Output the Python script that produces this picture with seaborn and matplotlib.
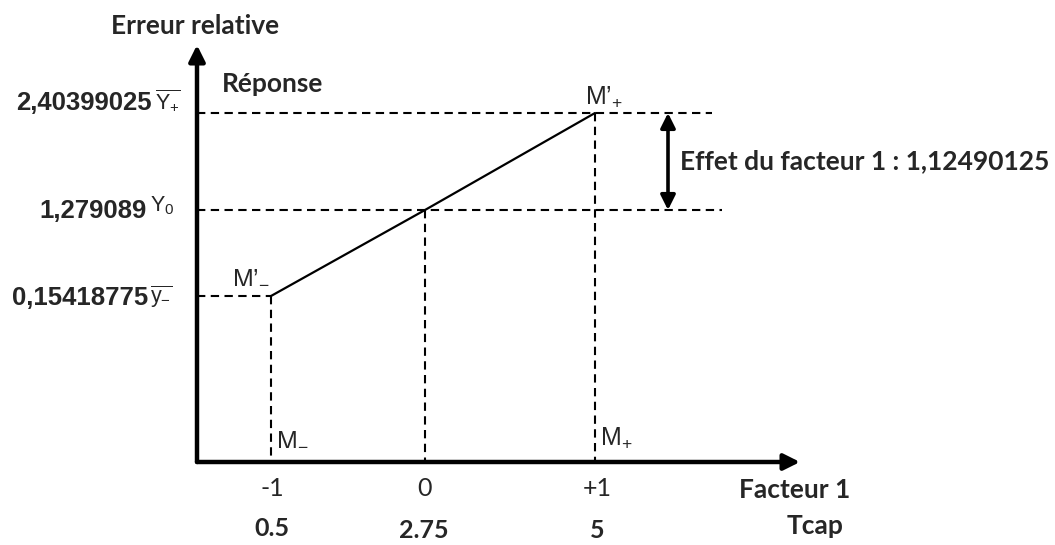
import matplotlib
matplotlib.use("Agg")
import matplotlib.pyplot as plt
import seaborn as sns
import pandas as pd
import numpy as np

# Two-level design for factor 1 (Tcap) and the measured relative error
coded_labels = ["-1", "0", "+1"]
tcap_levels = [0.5, 2.75, 5]
responses = [0.15418775, 1.279089, 2.40399025]
response_symbols = [r"$\overline{\mathrm{y}_{-}}$", r"$\mathrm{Y}_{0}$", r"$\overline{\mathrm{Y}_{+}}$"]
point_labels = ["M’$_{-}$", None, "M’$_{+}$"]
base_labels = ["M$_{-}$", None, "M$_{+}$"]
effect = 1.12490125

sns.set_theme(style="white")
plt.rcParams["mathtext.fontset"] = "custom"
plt.rcParams["mathtext.rm"] = "Liberation Sans"
plt.rcParams["mathtext.it"] = "Liberation Sans:italic"
plt.rcParams["mathtext.bf"] = "Liberation Sans:bold"
plt.rcParams["font.family"] = ["Lato", "DejaVu Sans"]

W, H = 1055, 545
fig = plt.figure(figsize=(W / 100, H / 100), dpi=100)

# frame of the arrowed axes, in pixels from the top-left corner
ax_l, ax_r, ax_t, ax_b = 197, 800, 45, 462
# schematic (not to scale) placement of the three levels, in pixels
x_knots_px = [271, 425, 595]
y_knots_px = [296, 210, 113]


def piecewise(src, dst):
    src = np.asarray(src, float)
    dst = np.asarray(dst, float)
    lo = (dst[1] - dst[0]) / (src[1] - src[0])
    hi = (dst[-1] - dst[-2]) / (src[-1] - src[-2])

    def f(v):
        v = np.asarray(v, float)
        out = np.interp(v, src, dst)
        out = np.where(v < src[0], dst[0] + (v - src[0]) * lo, out)
        out = np.where(v > src[-1], dst[-1] + (v - src[-1]) * hi, out)
        return out
    return f


x_fwd = piecewise(tcap_levels, x_knots_px)
x_inv = piecewise(x_knots_px, tcap_levels)
y_fwd = piecewise(responses, [-p for p in y_knots_px])
y_inv = piecewise([-p for p in y_knots_px], responses)

ax = fig.add_axes([ax_l / W, 1 - ax_b / H, (ax_r - ax_l) / W, (ax_b - ax_t) / H])
ax.set_xscale("function", functions=(x_fwd, x_inv))
ax.set_yscale("function", functions=(y_fwd, y_inv))


def px_x(px):
    return float(x_inv(px))


def px_y(py):
    return float(y_inv(-py))


# response line through the three design points
df = pd.DataFrame({"Tcap": tcap_levels, "Réponse": responses})
sns.lineplot(data=df, x="Tcap", y="Réponse", color="black", linewidth=1.6, ax=ax)

x0, x1 = px_x(ax_l), px_x(ax_r)
y0, y1 = px_y(ax_b), px_y(ax_t)
ax.set_xlim(x0, x1)
ax.set_ylim(y0, y1)
ax.axis("off")

# dashed guides
dash = dict(color="black", linewidth=1.5, linestyle=(0, (4, 2.6)), clip_on=False)
h_ends = [tcap_levels[0], px_x(722), px_x(712)]
for xv, yv, xe in zip(tcap_levels, responses, h_ends):
    ax.plot([x0, xe], [yv, yv], **dash)
    ax.plot([xv, xv], [yv, y0], **dash)

# effect of factor 1: double arrow between Y0 and Y+
xa = px_x(668)
ax.annotate("", xy=(xa, responses[2]), xytext=(xa, responses[1]),
            arrowprops=dict(arrowstyle="<|-|>", color="black", lw=2.6,
                            mutation_scale=22, shrinkA=0, shrinkB=0),
            annotation_clip=False)

# arrowed axes
for end in [(1, 0), (0, 1)]:
    ax.annotate("", xy=end, xytext=(0, 0), xycoords="axes fraction",
                arrowprops=dict(arrowstyle="-|>", color="black", lw=3.2,
                                mutation_scale=24, shrinkA=0, shrinkB=0),
                annotation_clip=False)


def ftext(px, py, s, **kw):
    fig.text(px / W, 1 - py / H, s, **kw)


ftext(195, 26, "Erreur relative", ha="center", va="center", fontsize=19, fontweight="bold")
ftext(222, 84, "Réponse", ha="left", va="center", fontsize=19, fontweight="bold")

# response values on the vertical axis
val_pos = [(148, 298), (147, 211), (152, 103)]
sym_pos = [(150, 297), (150, 206), (155, 100)]
for v, s, (vx, vy), (sx_, sy_) in zip(responses, response_symbols, val_pos, sym_pos):
    ftext(vx, vy, str(v).replace(".", ","), ha="right", va="center", fontsize=18.5,
          fontweight="bold", family="Liberation Sans")
    ftext(sx_, sy_, s, ha="left", va="center", fontsize=15.5, family="Liberation Sans")

# point names
ftext(232, 276, point_labels[0], ha="left", va="center", fontsize=18, family="Liberation Sans")
ftext(585, 97, point_labels[2], ha="left", va="center", fontsize=18, family="Liberation Sans")
ftext(276, 438, base_labels[0], ha="left", va="center", fontsize=18, family="Liberation Sans")
ftext(600, 438, base_labels[2], ha="left", va="center", fontsize=18, family="Liberation Sans")

ftext(680, 161, "Effet du facteur 1 : " + str(effect).replace(".", ","),
      ha="left", va="center", fontsize=19, fontweight="bold")

# level labels under the horizontal axis
tick_px = [272, 424, 597]
tcap_py = [529, 531, 531]
for tx, lab, tc, ty in zip(tick_px, coded_labels, tcap_levels, tcap_py):
    ftext(tx, 488, lab, ha="center", va="center", fontsize=18)
    ftext(tx, ty, str(tc), ha="center", va="center", fontsize=18, fontweight="bold")
ftext(795, 490, "Facteur 1", ha="center", va="center", fontsize=19, fontweight="bold")
ftext(815, 526, "Tcap", ha="center", va="center", fontsize=19, fontweight="bold")

fig.savefig("out.png", dpi=100, facecolor="white")
